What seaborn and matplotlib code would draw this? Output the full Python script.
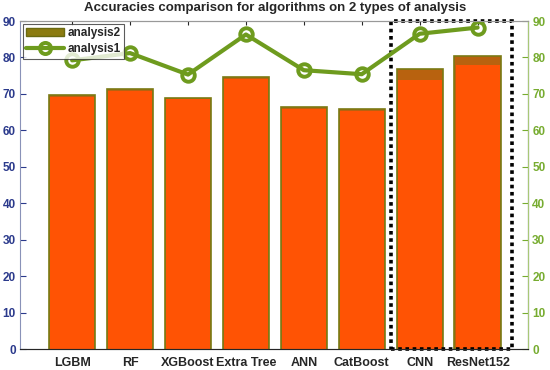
import numpy as np
import pandas as pd
import matplotlib
matplotlib.use("Agg")
import matplotlib.pyplot as plt
from matplotlib.patches import Rectangle, Patch
from matplotlib.lines import Line2D
import seaborn as sns

algorithms = ['LGBM', 'RF', 'XGBoost', 'Extra Tree', 'ANN', 'CatBoost', 'CNN', 'ResNet152']
analysis2 = [69.7, 71.4, 69.0, 74.7, 66.4, 65.8, 76.7, 80.5]
analysis1_bar = [69.2, 70.9, 68.5, 74.2, 65.8, 65.2, 73.8, 78.0]
analysis1 = [79.2, 81.2, 75.3, 86.3, 76.5, 75.4, 86.5, 88.2]

df = pd.DataFrame({'alg': algorithms, 'a2': analysis2, 'a1b': analysis1_bar,
                   'a1': analysis1, 'pos': np.arange(len(algorithms))})

sns.set_style('white')
plt.rcParams['font.family'] = ['Liberation Sans', 'DejaVu Sans']

fig = plt.figure(figsize=(5.5, 3.7), dpi=100)
ax = fig.add_axes([20/550, 21/370, 508/550, 328/370])

sns.barplot(data=df, x='alg', y='a2', color='#b8620f', edgecolor='#7a7a14',
            linewidth=1.2, width=0.8, saturation=1, ax=ax)
sns.barplot(data=df, x='alg', y='a1b', color='#ff5304', edgecolor='none',
            linewidth=0, width=0.76, saturation=1, ax=ax)

ax.set_xlim(-0.9, 7.87)
ax.set_ylim(0, 90)
ax.set_yticks(range(0, 91, 10))
ax.set_xlabel('')
ax.set_ylabel('')
ax.tick_params(axis='y', colors='#2b3a8c', direction='in', length=4, labelsize=8.5, pad=3)
ax.tick_params(axis='x', direction='in', length=3, labelsize=9, top=True, pad=6)
for lab in ax.get_xticklabels() + ax.get_yticklabels():
    lab.set_fontweight('bold')
ax.spines['left'].set_color('#8a92b8')
ax.spines['top'].set_color('#999999')
ax.spines['bottom'].set_color('#666666')

# highlight box around deep models
ax.add_patch(Rectangle((5.5, 0), 2.1, 90, fill=False, edgecolor='black',
                       linestyle=(0, (1, 1)), linewidth=2.6, zorder=5, clip_on=False))

ax2 = ax.twinx()
sns.lineplot(data=df, x='pos', y='a1', color='#6e9b1e', linewidth=3, marker='o',
             markersize=9, markerfacecolor='none', markeredgecolor='#6e9b1e',
             markeredgewidth=2.8, ax=ax2)
ax2.set_ylim(0, 90)
ax2.set_yticks(range(0, 91, 10))
ax2.set_ylabel('')
ax2.tick_params(axis='y', colors='#77ac30', direction='in', length=4, labelsize=8.5, pad=3)
for lab in ax2.get_yticklabels():
    lab.set_fontweight('bold')
ax2.spines['right'].set_color('#a8c878')
ax2.spines['left'].set_visible(False)
ax2.spines['top'].set_color('#999999')

handles = [Patch(facecolor='#8b7b10', edgecolor='#6a6a10'),
           Line2D([0], [0], color='#6e9b1e', linewidth=3, marker='o', markersize=8,
                  markerfacecolor='none', markeredgewidth=2.8)]
leg = ax2.legend(handles, ['analysis2', 'analysis1'], loc='upper left',
                 bbox_to_anchor=(0.003, 0.995), prop={'weight': 'bold', 'size': 8.5},
                 frameon=True, fancybox=False, edgecolor='#333333',
                 borderpad=0.3, labelspacing=0.35, handlelength=3.2, handletextpad=0.3,
                 borderaxespad=0.1)
leg.get_frame().set_linewidth(0.8)

fig.suptitle('Accuracies comparison for algorithms on 2 types of analysis',
             fontsize=9.5, fontweight='bold', y=0.995)

fig.savefig('out.png', dpi=100)
